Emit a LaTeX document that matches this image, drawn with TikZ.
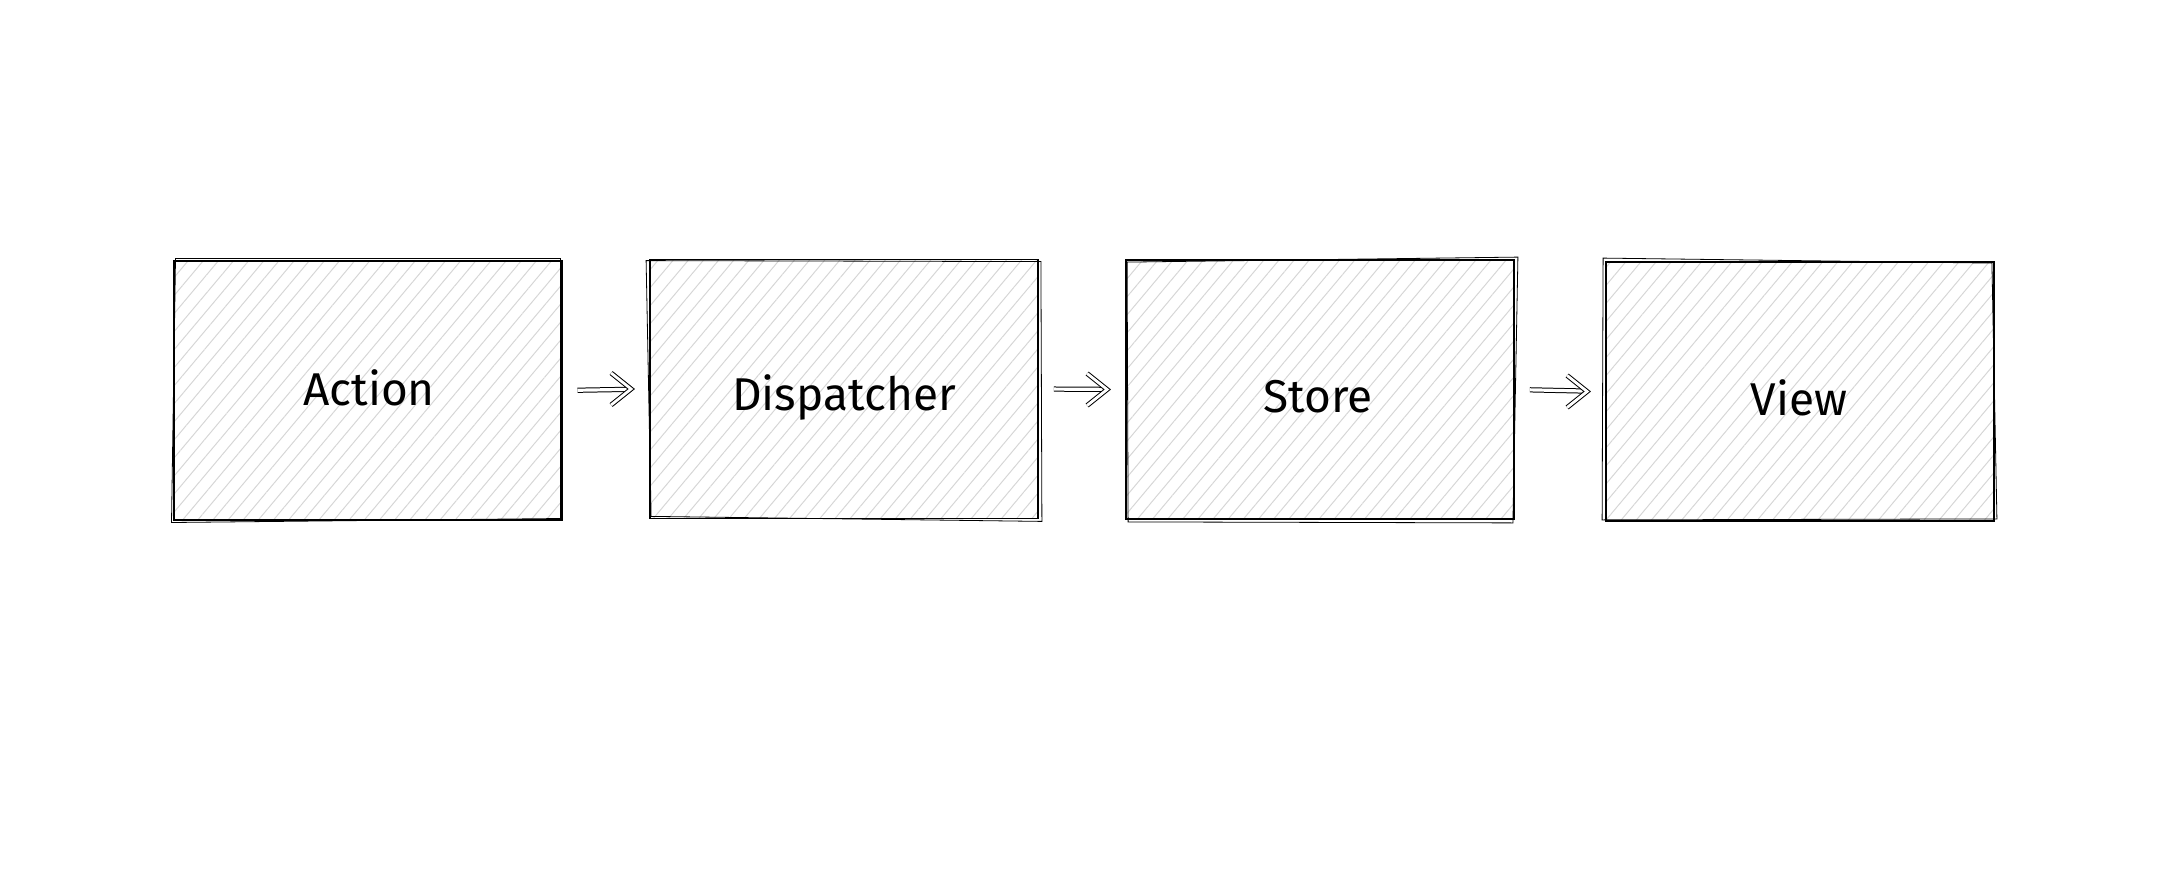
\documentclass[tikz,border=0pt]{standalone}
\usepackage{fontspec}
\setmainfont{Fira Sans}
\usetikzlibrary{calc,patterns.meta}
\begin{document}
\begin{tikzpicture}[x=0.5pt,y=-0.5pt,
  block/.style={draw=black, line width=0.9pt, minimum width=194pt, minimum height=129.5pt,
    inner sep=0pt,
    pattern={Lines[angle=50,distance=5.8pt,line width=0.5pt]}, pattern color=black!16},
  sketch/.style={draw=black, line width=0.4pt},
  label/.style={font=\fontsize{23}{28}\selectfont},
  flowline/.style={double=white, double distance=1.6pt, line width=0.5pt,
    shorten <=7.5pt, shorten >=9pt},
  flowhead/.style={double=white, double distance=1.4pt, line width=0.5pt,
    line join=miter, line cap=butt}
]
\useasboundingbox (0,0) rectangle (2182,882);
\node[block] (action) at (368,390.5) {};
\node[block] (disp) at (844,389) {};
\node[block] (store) at (1320,389.5) {};
\node[block] (view) at (1800,391.5) {};
% second sketchy strokes
\foreach \n/\a/\b in {action/2/-2, disp/-3/2, store/2/3, view/-2/-3}{
  \draw[sketch] ($(\n.north west)+(\a,\b)$) -- ($(\n.north east)+(\b,-\a)$)
    -- ($(\n.south east)+(-\a,\b)$) -- ($(\n.south west)+(\b,\a)$) -- cycle;
}
\node[label] (taction) at (369,388) {Action};
\node[label] (tdisp) at (844,397) {Dispatcher};
\node[label] (tstore) at (1318,397) {Store};
\node[label] (tview) at (1799,398) {View};
\foreach \s/\t in {action/disp, disp/store, store/view}{
  \draw[flowline] (\s.east) -- (\t.west);
  \draw[flowhead] ($(\t.west)+(-38,-16)$) -- ($(\t.west)+(-18,0)$) -- ($(\t.west)+(-38,16)$);
}
\end{tikzpicture}
\end{document}
